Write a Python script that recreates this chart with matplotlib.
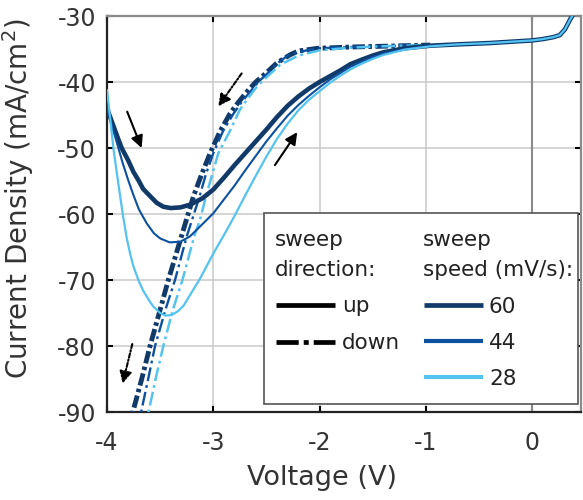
import numpy as np
import matplotlib
matplotlib.use("Agg")
import matplotlib.pyplot as plt
from matplotlib.lines import Line2D
from matplotlib.patches import Rectangle

plt.rcParams['font.family'] = ['DejaVu Sans']
plt.rcParams['lines.scale_dashes'] = False

# shared plateau near 0 V (both sweep directions overlap there)
plateau_v = [-0.70, -0.40, -0.20, 0.00, 0.10, 0.20, 0.26, 0.31, 0.355, 0.40]
plateau_j = [-34.3, -34.1, -33.9, -33.7, -33.5, -33.2, -32.9, -32.0, -30.6, -29.4]

# up sweep (solid)
up60_v = [-4.00, -3.95, -3.90, -3.862, -3.80, -3.752, -3.70, -3.66, -3.60, -3.533,
          -3.47, -3.40, -3.31, -3.22, -3.10, -3.00, -2.90, -2.80, -2.70, -2.60,
          -2.50, -2.40, -2.30, -2.20, -2.10, -2.00, -1.90, -1.80, -1.71, -1.60,
          -1.50, -1.40, -1.20, -0.96]
up60_j = [-44.0, -46.2, -48.4, -50.0, -51.9, -53.6, -55.0, -56.2, -57.2, -58.3,
          -58.9, -59.1, -59.0, -58.6, -57.6, -56.3, -54.5, -52.6, -50.8, -49.0,
          -47.2, -45.3, -43.6, -42.2, -41.0, -40.0, -39.1, -38.2, -37.3, -36.6,
          -36.0, -35.5, -34.9, -34.5]

up44_v = [-4.00, -3.95, -3.893, -3.85, -3.80, -3.752, -3.70, -3.627, -3.56, -3.50,
          -3.41, -3.31, -3.22, -3.125, -3.00, -2.90, -2.80, -2.70, -2.60, -2.50,
          -2.40, -2.30, -2.20, -2.10, -2.00, -1.90, -1.80, -1.71, -1.60, -1.50,
          -1.40, -1.20, -0.96]
up44_j = [-44.0, -46.8, -50.0, -52.4, -54.9, -57.1, -59.3, -61.4, -62.9, -63.7,
          -64.3, -64.2, -63.4, -61.9, -59.9, -57.8, -55.7, -53.4, -51.2, -49.0,
          -47.0, -45.1, -43.5, -42.1, -40.8, -39.6, -38.6, -37.7, -36.9, -36.2,
          -35.7, -35.0, -34.5]

up28_v = [-4.00, -3.97, -3.94, -3.91, -3.878, -3.85, -3.815, -3.78, -3.75, -3.70,
          -3.66, -3.60, -3.565, -3.50, -3.45, -3.39, -3.33, -3.28, -3.22, -3.125,
          -3.00, -2.90, -2.80, -2.70, -2.60, -2.50, -2.40, -2.30, -2.20, -2.10,
          -2.00, -1.90, -1.80, -1.70, -1.60, -1.50, -1.40, -1.20, -0.96]
up28_j = [-41.2, -45.5, -50.0, -53.5, -57.1, -60.2, -63.6, -66.2, -68.0, -70.2,
          -71.6, -73.2, -74.0, -75.0, -75.4, -75.3, -74.7, -73.9, -72.3, -69.8,
          -66.0, -63.2, -60.3, -57.2, -54.2, -51.3, -48.6, -46.3, -44.3, -42.7,
          -41.4, -40.1, -39.0, -38.0, -37.2, -36.5, -35.9, -35.1, -34.6]

# down sweep (dash-dot), from the plateau towards -4 V
down60_v = [-0.96, -1.20, -1.45, -1.71, -2.02, -2.20, -2.28, -2.40, -2.50, -2.60,
            -2.69, -2.77, -2.843, -2.937, -3.03, -3.11, -3.188, -3.30, -3.423, -3.50,
            -3.595, -3.67, -3.752, -3.80]
down60_j = [-34.4, -34.5, -34.6, -34.7, -34.9, -35.3, -35.9, -37.1, -38.6, -40.0,
            -41.6, -43.2, -44.8, -47.5, -50.8, -54.0, -57.4, -63.4, -70.0, -74.5,
            -80.0, -84.8, -89.7, -92.7]

down44_v = [-0.96, -1.20, -1.45, -1.71, -2.02, -2.18, -2.30, -2.40, -2.47, -2.57,
            -2.66, -2.74, -2.81, -2.91, -3.00, -3.07, -3.13, -3.25, -3.36, -3.45,
            -3.548, -3.61, -3.675, -3.72]
down44_j = [-34.4, -34.5, -34.6, -34.7, -34.9, -35.4, -36.0, -37.2, -38.4, -39.9,
            -41.6, -43.2, -44.8, -47.5, -50.8, -54.0, -57.4, -63.4, -70.0, -74.5,
            -80.0, -84.8, -89.7, -92.7]

down28_v = [-0.96, -1.20, -1.45, -1.71, -2.00, -2.20, -2.37, -2.48, -2.59, -2.67,
            -2.75, -2.84, -2.953, -3.01, -3.07, -3.125, -3.18, -3.29, -3.38, -3.47,
            -3.54, -3.605, -3.65]
down28_j = [-34.4, -34.5, -34.6, -34.8, -35.2, -36.0, -37.4, -39.0, -40.7, -42.4,
            -44.2, -47.3, -50.8, -54.0, -57.4, -60.9, -63.4, -70.0, -74.5, -80.0,
            -84.8, -89.7, -92.7]

speeds = ['60', '44', '28']
colors = ['#113a69', '#0c51a0', '#55c3ef']
widths = [3.3, 1.5, 1.6]
up_sets = [(up60_v, up60_j), (up44_v, up44_j), (up28_v, up28_j)]
down_sets = [(down60_v, down60_j), (down44_v, down44_j), (down28_v, down28_j)]
dash_patterns = [(0, (9, 2.5, 2.5, 2.5)), (0, (10, 3, 2, 3)), (0, (10, 3, 2, 3))]

# sweep-direction arrows: (start, tip, style)
arrows = [((-3.81, -44.5), (-3.674, -50.0), '-'),
          ((-2.42, -52.6), (-2.21, -47.6), '-'),
          ((-2.733, -38.7), (-2.953, -43.7), 'dashdot'),
          ((-3.762, -79.7), (-3.853, -85.7), 'dashdot')]

xticks = [-4, -3, -2, -1, 0]
yticks = [-90, -80, -70, -60, -50, -40, -30]

fig = plt.figure(figsize=(5.83, 5.0), dpi=100)
ax = fig.add_axes([107 / 583, 1 - 412 / 500, 474 / 583, 396 / 500])

text_c = '#333333'

for (dv, dj), c, w, ds in zip(down_sets, colors, widths, dash_patterns):
    ax.plot(dv[::-1], dj[::-1], color=c, lw=w + 0.2, linestyle=ds,
            solid_joinstyle='round', zorder=3)
for (uv, uj), c, w in zip(up_sets, colors, widths):
    ax.plot(uv + plateau_v, uj + plateau_j, color=c, lw=w, solid_joinstyle='round',
            solid_capstyle='round', zorder=3)

for start, tip, style in arrows:
    ls = '-' if style == '-' else (0, (3, 1.5, 1, 1.5))
    ax.annotate('', xy=tip, xytext=start,
                arrowprops=dict(arrowstyle='-|>', color='black', lw=1.5,
                                linestyle=ls, mutation_scale=18,
                                shrinkA=0, shrinkB=0),
                zorder=4)

ax.axvline(0, color='#8a8a8a', lw=1.5, zorder=1.5)

ax.set_xlim(-4, 0.46)
ax.set_ylim(-90, -30)
ax.set_xticks(xticks)
ax.set_yticks(yticks)
ax.set_xticklabels([str(t) for t in xticks])
ax.set_yticklabels([str(t) for t in yticks])
ax.grid(True, color='#c9c9c9', lw=1.1)
ax.set_axisbelow(True)

ax.tick_params(direction='in', length=4, width=1.5, colors='black',
               top=True, right=True, labelsize=17, labelcolor=text_c)
ax.tick_params(axis='x', pad=14)
ax.tick_params(axis='y', pad=8)
for side in ['left', 'bottom']:
    ax.spines[side].set_color('#222222')
    ax.spines[side].set_linewidth(1.6)
for side in ['top', 'right']:
    ax.spines[side].set_color('#8a8a8a')
    ax.spines[side].set_linewidth(1.6)

ax.set_xlabel('Voltage (V)', fontsize=19.5, color=text_c)
ax.set_ylabel('Current Density (mA/cm$^2$)', fontsize=20, color=text_c)
ax.xaxis.set_label_coords(0.454, -0.135)
ax.yaxis.set_label_coords(-0.15, 0.54)

# hand-built two-column legend, placed in figure pixels
def fx(px):
    return px / 583

def fy(py):
    return 1 - py / 500

fig.patches.append(Rectangle((fx(264), fy(404)), fx(578) - fx(264), fy(213) - fy(404),
                             transform=fig.transFigure, facecolor='white',
                             edgecolor='#555555', lw=1.2, zorder=5))
lfs = 15.5
fig.text(fx(275), fy(246), 'sweep', fontsize=lfs, color='#222222', zorder=6)
fig.text(fx(275), fy(276), 'direction:', fontsize=lfs, color='#222222', zorder=6)
fig.text(fx(423), fy(246), 'sweep', fontsize=lfs, color='#222222', zorder=6)
fig.text(fx(423), fy(276), 'speed (mV/s):', fontsize=lfs, color='#222222', zorder=6)

fig.lines.append(Line2D([fx(276), fx(335)], [fy(305), fy(305)], transform=fig.transFigure,
                        color='black', lw=3.4, solid_capstyle='butt', zorder=6))
fig.text(fx(342), fy(312), 'up', fontsize=lfs, color='#222222', zorder=6)
fig.lines.append(Line2D([fx(276), fx(335)], [fy(342), fy(342)], transform=fig.transFigure,
                        color='black', lw=3.4, linestyle=(0, (16, 3.6, 3.6, 3.6)),
                        zorder=6))
fig.text(fx(342), fy(349), 'down', fontsize=lfs, color='#222222', zorder=6)

for i, (s, c) in enumerate(zip(speeds, colors)):
    ly = 305 + 36 * i
    fig.lines.append(Line2D([fx(424), fx(483)], [fy(ly), fy(ly)], transform=fig.transFigure,
                            color=c, lw=3.4 if i == 0 else 3.0, solid_capstyle='butt',
                            zorder=6))
    fig.text(fx(489), fy(ly + 8), s, fontsize=lfs, color='#222222', zorder=6)

fig.savefig('out.png', dpi=100)
